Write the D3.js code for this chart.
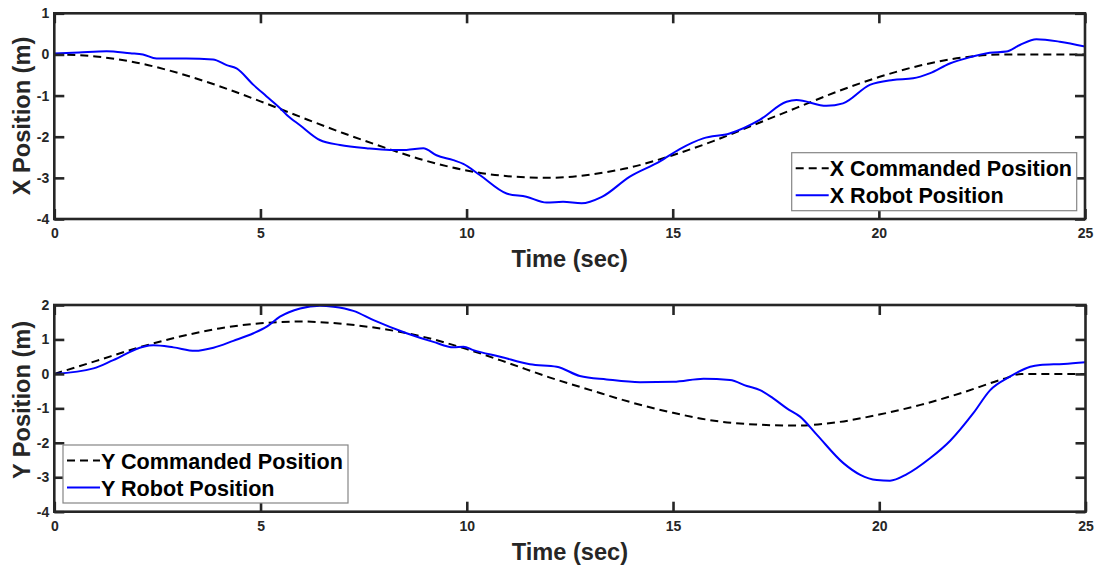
<!DOCTYPE html>
<html>
<head>
<meta charset="utf-8">
<script src="https://cdn.jsdelivr.net/npm/d3@7"></script>
<style>
  html, body { margin: 0; padding: 0; background: #ffffff; }
  svg { display: block; font-family: "Liberation Sans", Arial, Helvetica, sans-serif; }
</style>
</head>
<body>
<svg id="chart" width="1097" height="568"></svg>
<script>
// Time axis shared by both panels
const timeTicks = [0, 5, 10, 15, 20, 25];
const xPosTicks = [-4, -3, -2, -1, 0, 1];
const yPosTicks = [-4, -3, -2, -1, 0, 1, 2];

// X: commanded trajectory (time in s, position in m)
const xCmdTime = [0, 1, 2, 3, 4, 5, 6, 7, 8, 9, 10, 11, 12, 13, 14, 15, 16, 17, 18, 19, 20, 21, 22, 23, 24, 25];
const xCmdPos  = [0, -0.05, -0.2, -0.45, -0.77, -1.14, -1.53, -1.91, -2.26, -2.58, -2.82, -2.96, -3.0, -2.92, -2.74, -2.45, -2.1, -1.7, -1.3, -0.9, -0.55, -0.27, -0.08, 0, 0, 0];

// X: measured robot position
const xRobotTime = [0, 0.6, 1.27, 1.84, 2.15, 2.48, 3.2, 3.85, 4.18, 4.42, 4.83, 5.15, 5.47, 5.64, 5.96, 6.44, 6.93, 7.57, 8.14, 8.54, 8.95, 9.27, 9.68, 9.92, 10.32, 10.97, 11.45, 11.94, 12.34, 12.79, 13.27, 13.96, 14.69, 15.17, 15.74, 16.38, 17.11, 17.76, 18.0, 18.73, 19.13, 19.78, 20.34, 20.83, 21.23, 21.72, 22.2, 22.69, 23.09, 23.42, 23.82, 24.39, 25];
const xRobotPos  = [0.02, 0.05, 0.08, 0.03, 0.0, -0.1, -0.1, -0.12, -0.26, -0.34, -0.74, -1.02, -1.3, -1.47, -1.72, -2.08, -2.2, -2.28, -2.32, -2.32, -2.28, -2.45, -2.57, -2.66, -2.93, -3.38, -3.46, -3.6, -3.58, -3.62, -3.47, -2.97, -2.6, -2.3, -2.04, -1.92, -1.59, -1.15, -1.11, -1.25, -1.19, -0.74, -0.62, -0.58, -0.46, -0.22, -0.07, 0.04, 0.07, 0.23, 0.37, 0.31, 0.19];

// Y: commanded trajectory
const yCmdTime = [0, 1, 2, 3, 4, 5, 6, 7, 8, 9, 10, 11, 12, 13, 14, 15, 16, 17, 18, 19, 20, 21, 22, 23, 23.45, 24, 25];
const yCmdPos  = [0, 0.37, 0.75, 1.07, 1.32, 1.47, 1.52, 1.45, 1.3, 1.06, 0.72, 0.32, -0.1, -0.47, -0.83, -1.13, -1.36, -1.47, -1.5, -1.4, -1.18, -0.9, -0.55, -0.15, 0, 0, 0];

// Y: measured robot position
const yRobotTime = [0, 0.95, 1.43, 2.16, 2.4, 2.89, 3.41, 3.86, 4.34, 4.83, 5.15, 5.47, 5.96, 6.44, 6.77, 7.25, 7.74, 8.54, 9.19, 9.68, 9.92, 10.16, 10.81, 11.53, 12.18, 12.74, 13.39, 14.2, 15.01, 15.74, 16.38, 16.79, 17.11, 17.43, 17.76, 18.08, 18.49, 19.13, 19.54, 19.94, 20.26, 20.67, 21.23, 21.72, 22.28, 22.69, 23.17, 23.66, 23.9, 24.47, 25];
const yRobotPos  = [0.0, 0.16, 0.4, 0.79, 0.83, 0.77, 0.67, 0.76, 0.96, 1.18, 1.37, 1.66, 1.9, 1.98, 1.95, 1.83, 1.56, 1.18, 0.93, 0.77, 0.79, 0.69, 0.5, 0.28, 0.21, -0.06, -0.16, -0.24, -0.23, -0.14, -0.18, -0.35, -0.47, -0.71, -1.0, -1.24, -1.77, -2.59, -2.93, -3.08, -3.1, -2.91, -2.45, -1.94, -1.14, -0.47, -0.08, 0.21, 0.26, 0.29, 0.34];

const xLegendLabels = ["X Commanded Position", "X Robot Position"];
const yLegendLabels = ["Y Commanded Position", "Y Robot Position"];

const AXIS = "#262626";
const svg = d3.select("#chart");

function zip(ts, vs) { return ts.map((t, i) => ({ t: t, v: vs[i] })); }
const plain = d => String(d);

function panel(cfg) {
  const { left, right, top, bottom, yDomain, yTicks, yLabel, labelY, cmd, robot, legend, id } = cfg;
  const x = d3.scaleLinear().domain([0, 25]).range([left, right]);
  const y = d3.scaleLinear().domain(yDomain).range([bottom, top]);
  const g = svg.append("g");

  g.append("clipPath").attr("id", id).append("rect")
    .attr("x", left).attr("y", top).attr("width", right - left).attr("height", bottom - top);

  const line = d3.line().x(d => x(d.t)).y(d => y(d.v)).curve(d3.curveMonotoneX);

  const plot = g.append("g").attr("clip-path", `url(#${id})`);
  plot.append("path").datum(cmd).attr("d", line)
    .attr("fill", "none").attr("stroke", "#000").attr("stroke-width", 2)
    .attr("stroke-dasharray", "8,5");
  plot.append("path").datum(robot).attr("d", line)
    .attr("fill", "none").attr("stroke", "#0000ff").attr("stroke-width", 2);

  const tickLen = -10;
  const styleAxis = sel => {
    sel.select(".domain").remove();
    sel.selectAll(".tick line").attr("stroke", AXIS).attr("stroke-width", 2.6);
    sel.selectAll(".tick text").attr("fill", AXIS).attr("font-size", 14).attr("font-weight", "bold");
  };

  g.append("g").attr("transform", `translate(0,${bottom})`)
    .call(d3.axisBottom(x).tickValues(timeTicks).tickFormat(plain).tickSizeInner(tickLen).tickSizeOuter(0).tickPadding(9))
    .call(styleAxis);
  g.append("g").attr("transform", `translate(0,${top})`)
    .call(d3.axisTop(x).tickValues(timeTicks).tickSizeInner(tickLen).tickSizeOuter(0).tickFormat(""))
    .call(styleAxis);
  g.append("g").attr("transform", `translate(${left},0)`)
    .call(d3.axisLeft(y).tickValues(yTicks).tickFormat(plain).tickSizeInner(tickLen).tickSizeOuter(0).tickPadding(5))
    .call(styleAxis);
  g.append("g").attr("transform", `translate(${right},0)`)
    .call(d3.axisRight(y).tickValues(yTicks).tickSizeInner(tickLen).tickSizeOuter(0).tickFormat(""))
    .call(styleAxis);

  // axes box
  g.append("rect").attr("x", left).attr("y", top)
    .attr("width", right - left).attr("height", bottom - top)
    .attr("fill", "none").attr("stroke", AXIS).attr("stroke-width", 2.6);

  g.append("text").attr("x", (left + right) / 2).attr("y", bottom + 48)
    .attr("text-anchor", "middle").attr("font-size", 23.6).attr("font-weight", "bold")
    .attr("fill", AXIS).text("Time (sec)");

  g.append("text").attr("transform", `translate(30,${labelY}) rotate(-90)`)
    .attr("text-anchor", "middle").attr("font-size", 23.6).attr("font-weight", "bold")
    .attr("fill", AXIS).text(yLabel);

  // legend
  const lg = g.append("g");
  lg.append("rect").attr("x", legend.x).attr("y", legend.y)
    .attr("width", legend.w).attr("height", legend.h)
    .attr("fill", "#fff").attr("stroke", "#858585").attr("stroke-width", 1.2);
  const styles = [
    { stroke: "#000", dash: "8,5" },
    { stroke: "#0000ff", dash: null }
  ];
  legend.labels.forEach((lab, i) => {
    const cy = legend.y + 15.5 + i * 27;
    lg.append("line").attr("x1", legend.x + 4).attr("x2", legend.x + 37)
      .attr("y1", cy).attr("y2", cy)
      .attr("stroke", styles[i].stroke).attr("stroke-width", 2)
      .attr("stroke-dasharray", styles[i].dash);
    lg.append("text").attr("x", legend.x + 38).attr("y", cy + 8)
      .attr("font-size", 21.6).attr("font-weight", "bold").attr("fill", "#000").text(lab);
  });
}

panel({
  id: "clipX", left: 54.3, right: 1085, top: 13.3, bottom: 219,
  yDomain: [-4, 1], yTicks: xPosTicks, yLabel: "X Position (m)", labelY: 116,
  cmd: zip(xCmdTime, xCmdPos), robot: zip(xRobotTime, xRobotPos),
  legend: { x: 791.7, y: 152.7, w: 285, h: 58, labels: xLegendLabels }
});

panel({
  id: "clipY", left: 54.3, right: 1085.5, top: 305, bottom: 511.7,
  yDomain: [-4, 2], yTicks: yPosTicks, yLabel: "Y Position (m)", labelY: 400,
  cmd: zip(yCmdTime, yCmdPos), robot: zip(yRobotTime, yRobotPos),
  legend: { x: 63, y: 445, w: 285, h: 58, labels: yLegendLabels }
});
</script>
</body>
</html>
